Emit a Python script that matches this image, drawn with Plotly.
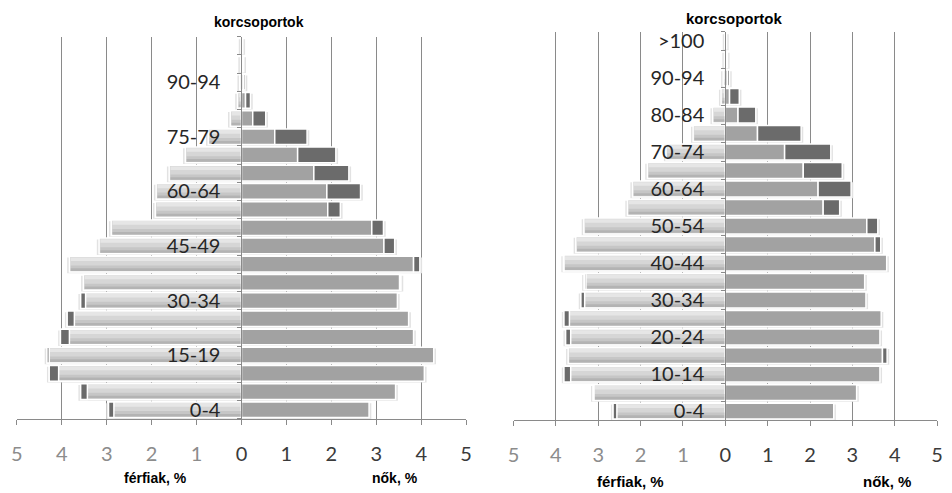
import plotly.graph_objects as go

# ---------------- data ----------------
age_groups = ["0-4", "5-9", "10-14", "15-19", "20-24", "25-29", "30-34", "35-39",
              "40-44", "45-49", "50-54", "55-59", "60-64", "65-69", "70-74",
              "75-79", "80-84", "85-89", "90-94", "95-99", ">100"]

# left pyramid (percent of population)
men_left = [2.96, 3.58, 4.28, 4.33, 4.03, 3.88, 3.58, 3.52, 3.83, 3.17, 2.90,
            1.92, 1.90, 1.61, 1.25, 0.74, 0.25, 0.09, 0.04, 0.02, 0.01]
women_left = [2.84, 3.43, 4.07, 4.28, 3.83, 3.72, 3.47, 3.55, 3.97, 3.41, 3.16,
              2.20, 2.65, 2.39, 2.10, 1.46, 0.54, 0.20, 0.08, 0.05, 0.03]

# right pyramid (percent of population)
men_right = [2.65, 3.12, 3.81, 3.71, 3.77, 3.81, 3.41, 3.33, 3.82, 3.53, 3.34,
             2.31, 2.19, 1.84, 1.40, 0.76, 0.30, 0.10, 0.05, 0.02, 0.01]
women_right = [2.56, 3.10, 3.65, 3.82, 3.65, 3.68, 3.32, 3.29, 3.81, 3.67, 3.60,
               2.70, 2.97, 2.76, 2.49, 1.79, 0.72, 0.33, 0.10, 0.05, 0.03]

left_labels = ["0-4", "15-19", "30-34", "45-49", "60-64", "75-79", "90-94"]
right_labels = ["0-4", "10-14", "20-24", "30-34", "40-44", "50-54", "60-64",
                "70-74", "80-84", "90-94", ">100"]

x_ticks = [-5, -4, -3, -2, -1, 0, 1, 2, 3, 4, 5]

# ---------------- styles ----------------
MEN_LIGHT = "#d6d6d6"
MEN_TOP = "#e6e6e6"
MEN_MID = "#c6c6c6"
MEN_BOT = "#b3b3b3"
WOMEN = "#a2a2a2"
EXCESS = "#6b6b6b"
SHADOW = "#e2e2e2"
GRID = "#8a8a8a"
NUM_FONT = "Lato"
BOLD_FONT = "Liberation Sans"

FW, FH = 952, 493


def fx(px):
    return px / FW


def fy(py):
    return 1 - py / FH


W = 0.86
fig = go.Figure()


def add_pyramid(men, women, xa, ya):
    lo = [min(m, f) for m, f in zip(men, women)]
    men_ex = [-(m - l) if m - l > 0.005 else None for m, l in zip(men, lo)]
    men_ex_base = [-l for l in lo]
    wom_ex = [(f - l) if f - l > 0.005 else None for f, l in zip(women, lo)]
    common = dict(orientation="h", y=age_groups, xaxis=xa, yaxis=ya,
                  showlegend=False, hoverinfo="skip")
    # shadows
    fig.add_trace(go.Bar(x=[-(m + 0.05) for m in men], width=W, offset=-W / 2 - 0.07,
                         marker=dict(color=SHADOW, line=dict(width=0)), **common))
    fig.add_trace(go.Bar(x=[f + 0.05 for f in women], width=W, offset=-W / 2 - 0.07,
                         marker=dict(color=SHADOW, line=dict(width=0)), **common))
    # men full bars (light gradient)
    fig.add_trace(go.Bar(x=[-m for m in men], width=W, offset=-W / 2,
                         marker=dict(color=MEN_LIGHT, line=dict(color="white", width=1.5)),
                         **common))
    fig.add_trace(go.Bar(x=[-(m - 0.03) for m in men], width=0.2, offset=W / 2 - 0.26,
                         marker=dict(color=MEN_TOP, line=dict(width=0)), **common))
    fig.add_trace(go.Bar(x=[-(m - 0.03) for m in men], width=0.3, offset=-W / 2 + 0.06,
                         marker=dict(color=MEN_MID, line=dict(width=0)), **common))
    fig.add_trace(go.Bar(x=[-(m - 0.03) for m in men], width=0.14, offset=-W / 2 + 0.06,
                         marker=dict(color=MEN_BOT, line=dict(width=0)), **common))
    # men excess
    fig.add_trace(go.Bar(x=men_ex, base=men_ex_base, width=W, offset=-W / 2,
                         marker=dict(color=EXCESS, line=dict(color="white", width=1.5)),
                         **common))
    # women common part
    fig.add_trace(go.Bar(x=lo, width=W, offset=-W / 2,
                         marker=dict(color=WOMEN, line=dict(color="white", width=1.5)),
                         **common))
    # women excess
    fig.add_trace(go.Bar(x=wom_ex, base=lo, width=W, offset=-W / 2,
                         marker=dict(color=EXCESS, line=dict(color="white", width=1.5)),
                         **common))


add_pyramid(men_left, women_left, "x", "y")
add_pyramid(men_right, women_right, "x2", "y2")


def tick_text():
    out = []
    for v in x_ticks:
        if v < 0:
            out.append('<span style="color:#8c8c8c">%d</span>' % abs(v))
        else:
            out.append(str(v))
    return out


xcommon = dict(range=[-5, 5], tickmode="array", tickvals=x_ticks, ticktext=tick_text(),
               showgrid=True, gridcolor=GRID, gridwidth=1, zeroline=False,
               showline=True, linecolor=GRID, linewidth=1,
               ticks="outside", ticklen=5, tickcolor=GRID,
               ticklabelstandoff=12,
               tickfont=dict(family=NUM_FONT, size=20, color="#3a3a3a"),
               fixedrange=True)


def ycommon(labels, xdom):
    return dict(type="category", categoryorder="array", categoryarray=age_groups,
                range=[-0.5, len(age_groups) - 0.5],
                tickmode="array", tickvals=age_groups,
                ticktext=[a if a in labels else "" for a in age_groups],
                tickson="boundaries", ticks="outside", ticklen=4, tickcolor=GRID,
                showline=True, linecolor=GRID, linewidth=1,
                showgrid=False, zeroline=False,
                anchor="free", position=(xdom[0] + xdom[1]) / 2,
                ticklabelstandoff=17,
                tickfont=dict(family=NUM_FONT, size=20, color="#262626"),
                layer="above traces", fixedrange=True)


xd1 = [fx(11), fx(466)]
xd2 = [fx(514), fx(943)]
yd1 = [fy(420), fy(33)]
yd2 = [fy(421.5), fy(28)]

fig.update_layout(
    width=FW, height=FH,
    margin=dict(l=0, r=0, t=0, b=0),
    paper_bgcolor="white", plot_bgcolor="white",
    barmode="overlay",
    xaxis=dict(domain=xd1, anchor="y", **xcommon),
    yaxis=dict(domain=yd1, **ycommon(left_labels, xd1)),
    xaxis2=dict(domain=xd2, anchor="y2", **xcommon),
    yaxis2=dict(domain=yd2, **ycommon(right_labels, xd2)),
)

ann = [
    ("korcsoportok", 256, 18, 14),
    ("férfiak, %", 151, 480, 14),
    ("nők, %", 394, 480, 14),
    ("korcsoportok", 738, 15, 15),
    ("férfiak, %", 632, 483, 15),
    ("nők, %", 892, 483, 15),
]
for text, px, py, fs in ann:
    fig.add_annotation(text="<b>%s</b>" % text, x=fx(px), y=fy(py),
                       xref="paper", yref="paper", showarrow=False,
                       xanchor="center", yanchor="middle",
                       font=dict(family=BOLD_FONT, size=fs, color="black"))

fig.write_html(
    "out.html",
    config={"displayModeBar": False, "staticPlot": True},
    post_script="document.body.style.margin='0';document.body.style.overflow='hidden';",
)
